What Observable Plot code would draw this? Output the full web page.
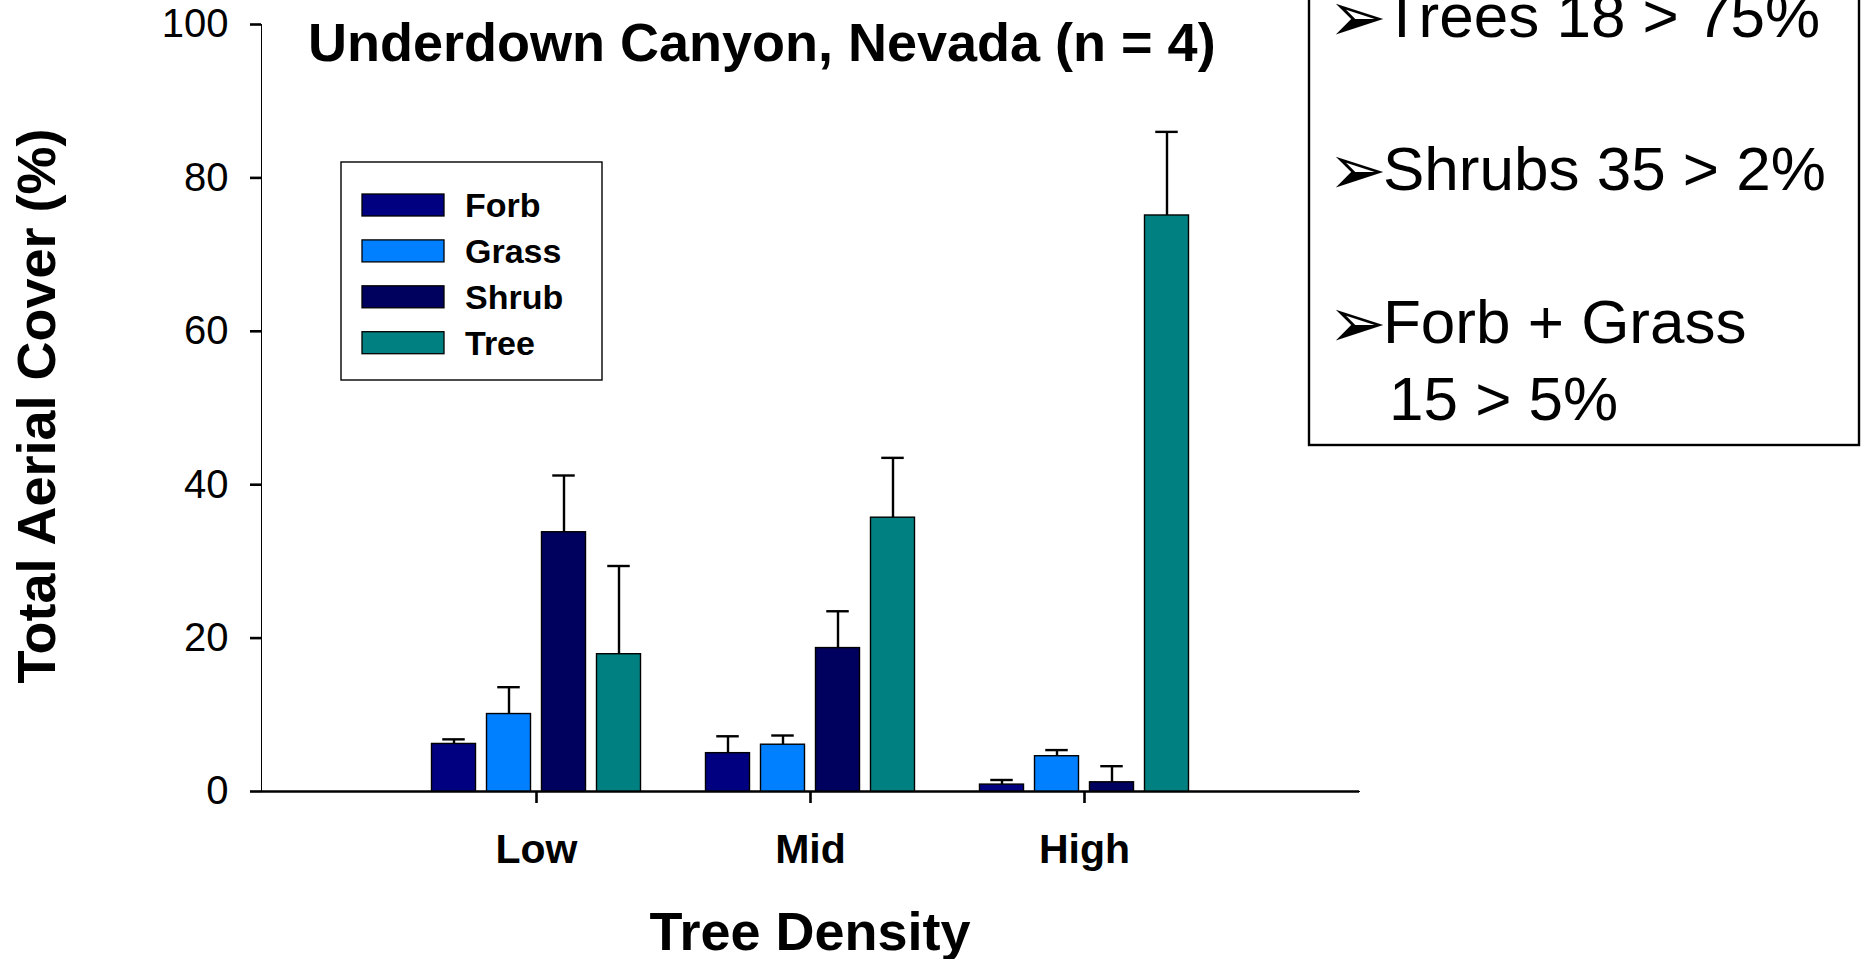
<!DOCTYPE html>
<html><head><meta charset="utf-8">
<script src="https://cdn.jsdelivr.net/npm/d3@7"></script>
<script src="https://cdn.jsdelivr.net/npm/@observablehq/plot@0.6"></script>
<style>html,body{margin:0;padding:0;background:#fff;overflow:hidden}</style>
</head><body><div id="chart"></div>
<script>
// ---- data ----
const categories = ["Low", "Mid", "High"];
const seriesNames = ["Forb", "Grass", "Shrub", "Tree"];
const seriesColors = ["#000080", "#0080FF", "#00005E", "#008080"];
const forbMean  = [6.2, 5.0, 0.9];
const forbSE    = [0.6, 2.2, 0.6];
const grassMean = [10.1, 6.1, 4.6];
const grassSE   = [3.5, 1.2, 0.8];
const shrubMean = [33.8, 18.7, 1.2];
const shrubSE   = [7.4, 4.8, 2.1];
const treeMean  = [17.9, 35.7, 75.1];
const treeSE    = [11.5, 7.8, 10.9];
const yTicks = [0, 20, 40, 60, 80, 100];
const titleText = "Underdown Canyon, Nevada (n = 4)";
const xLabel = "Tree Density";
const yLabel = "Total Aerial Cover (%)";
const noteLines = ["Trees 18 > 75%", "Shrubs 35 > 2%", "Forb + Grass"];
const noteWrap = "15 > 5%";

const means = [forbMean, grassMean, shrubMean, treeMean];
const ses = [forbSE, grassSE, shrubSE, treeSE];
const seriesData = seriesNames.map((name, i) =>
  categories.map((c, j) => ({cat: c, series: name, mean: means[i][j], top: means[i][j] + ses[i][j]})));

// ---- layout ----
const FONT = "'Liberation Sans', Arial, Helvetica, sans-serif";
const W = 1867, H = 959;
const mL = 261, mR = 508, mT = 24, mB = 168;
const band = (W - mL - mR) / 4;      // paddingOuter 0.5, paddingInner 0 -> step = range/4
const barStep = 55, barW = 44.5, capW = 23;

const marks = [Plot.ruleY([0], {stroke: "#000", strokeWidth: 2.6})];
seriesData.forEach((d, i) => {
  const off = (i - 1.5) * barStep;
  marks.push(Plot.barY(d, {x: "cat", y1: 0, y2: "mean", fill: seriesColors[i], stroke: "#000", strokeWidth: 1.4,
    insetLeft: (band - barW) / 2, insetRight: (band - barW) / 2, dx: off}));
  marks.push(Plot.ruleX(d, {x: "cat", y1: "mean", y2: "top", stroke: "#000", strokeWidth: 2.4, dx: off}));
  marks.push(Plot.tickY(d, {x: "cat", y: "top", stroke: "#000", strokeWidth: 2.4,
    insetLeft: (band - capW) / 2, insetRight: (band - capW) / 2, dx: off}));
});

const svg = Plot.plot({
  width: W, height: H,
  marginLeft: mL, marginRight: mR, marginTop: mT, marginBottom: mB,
  style: {fontFamily: FONT, fontSize: "40px", color: "#000", background: "#fff", overflow: "visible"},
  x: {domain: categories, paddingInner: 0, paddingOuter: 0.5, tickSize: 12, tickPadding: 30, line: true, label: null},
  y: {domain: [0, 100], ticks: yTicks, tickSize: 11, tickPadding: 22, line: true, label: null},
  marks
});
document.getElementById("chart").appendChild(svg);

const s = d3.select(svg);
// axis styling
s.selectAll('g[aria-label*="x-axis"] text').style("font-size", "41px").style("font-weight", "bold");
s.selectAll('g[aria-label*="y-axis"] text').style("font-size", "40px").style("font-weight", "normal");
s.selectAll('g[aria-label*="axis"] line, g[aria-label*="axis"] path')
  .attr("stroke", "#000").style("stroke-width", "2.6px").style("stroke-opacity", 1);
s.selectAll('g[aria-label*="axis"]').attr("stroke-width", 2.6).attr("stroke-opacity", 1);

const ann = s.append("g").attr("font-family", FONT).attr("fill", "#000").attr("text-anchor", "start");
// title
ann.append("text").attr("x", 308).attr("y", 61).attr("text-anchor", "start")
  .attr("font-size", 54).attr("font-weight", "bold").text(titleText);
// axis titles
ann.append("text").attr("x", 810).attr("y", 950).attr("text-anchor", "middle")
  .attr("font-size", 54).attr("font-weight", "bold").text(xLabel);
ann.append("text").attr("transform", "translate(55,406) rotate(-90)").attr("text-anchor", "middle")
  .attr("font-size", 54).attr("font-weight", "bold").text(yLabel);

// legend box
const lg = ann.append("g");
lg.append("rect").attr("x", 341).attr("y", 162).attr("width", 261).attr("height", 218)
  .attr("fill", "#fff").attr("stroke", "#000").attr("stroke-width", 1.4);
seriesNames.forEach((name, i) => {
  lg.append("rect").attr("x", 362).attr("y", 194 + i * 45.9).attr("width", 82).attr("height", 22)
    .attr("fill", seriesColors[i]).attr("stroke", "#000").attr("stroke-width", 1.3);
  lg.append("text").attr("x", 465).attr("y", 217 + i * 45.9).attr("text-anchor", "start")
    .attr("font-size", 34).attr("font-weight", "bold").text(name);
});

// note box
const nb = ann.append("g");
nb.append("rect").attr("x", 1309).attr("y", -20).attr("width", 550).attr("height", 465)
  .attr("fill", "#fff").attr("stroke", "#000").attr("stroke-width", 2.4);
noteLines.forEach((t, i) => {
  const y = 37 + i * 153;
  nb.append("text").attr("x", 1328).attr("y", y + 4).attr("text-anchor", "start")
    .attr("font-family", "'DejaVu Sans', sans-serif").attr("font-size", 70).text("\u27A2");
  nb.append("text").attr("x", 1383).attr("y", y).attr("text-anchor", "start").attr("font-size", 62).text(t);
});
nb.append("text").attr("x", 1389).attr("y", 420).attr("text-anchor", "start").attr("font-size", 62).text(noteWrap);
</script>
</body></html>
